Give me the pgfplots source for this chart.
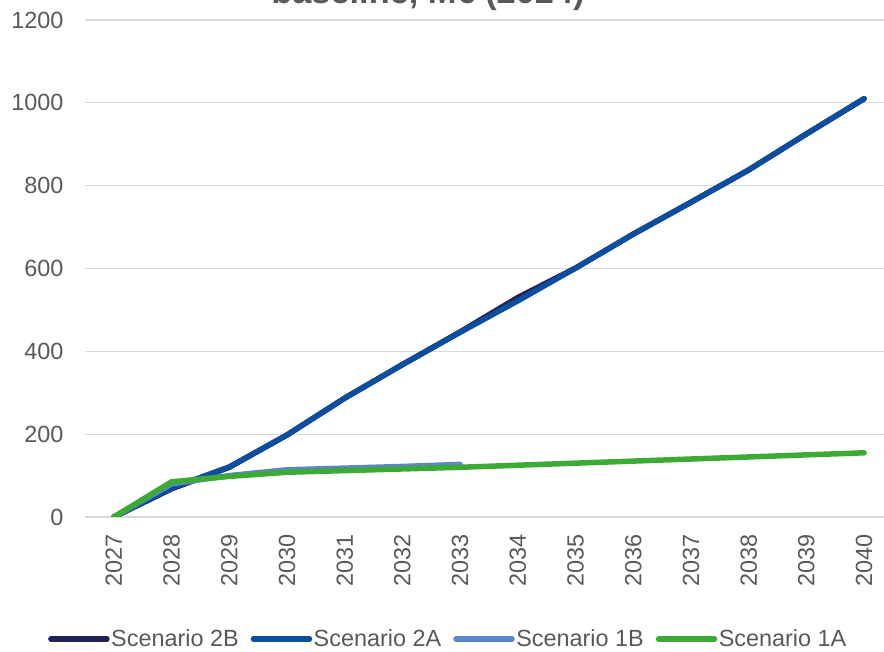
\documentclass[border=0pt]{standalone}
\usepackage{pgfplots}
\pgfplotsset{compat=1.18}
\usepackage{fontspec}
\setmainfont{Liberation Sans}

\definecolor{txtgrey}{HTML}{595959}
\definecolor{gridgrey}{HTML}{D9D9D9}
\definecolor{sc2b}{HTML}{1F2157}
\definecolor{sc2a}{HTML}{0B4EA0}
\definecolor{sc1b}{HTML}{5A87C8}
\definecolor{sc1a}{HTML}{3CAB36}

\begin{document}
\begin{tikzpicture}
\useasboundingbox (0bp,0bp) rectangle (884bp,652bp);
\clip (0bp,0bp) rectangle (884bp,652bp);

% chart title (upper lines fall outside the frame)
\node[anchor=base, font=\bfseries\fontsize{34.5}{40}\selectfont, text=txtgrey]
  at (428bp,648bp) {baseline, M€ (2024)};

\begin{axis}[
  at={(85bp,135bp)}, anchor=south west,
  scale only axis, width=808bp, height=497bp,
  xmin=-0.5, xmax=13.5, ymin=0, ymax=1200,
  ytick={0,200,...,1200},
  xtick={0,...,13},
  xticklabels={2027,2028,2029,2030,2031,2032,2033,2034,2035,2036,2037,2038,2039,2040},
  axis line style={draw=none},
  tick style={draw=none},
  ymajorgrids,
  major grid style={color=gridgrey, line width=1.3bp},
  /pgf/number format/assume math mode=true,
  /pgf/number format/1000 sep={},
  yticklabel style={font=\fontsize{23.5}{28}\selectfont, text=txtgrey, xshift=-18bp},
  xticklabel style={font=\fontsize{23.5}{28}\selectfont, text=txtgrey, rotate=90, anchor=east, xshift=-14bp},
  every axis plot/.append style={line width=5.5bp, line cap=round, line join=round, mark=none},
  legend columns=4,
  legend style={at={(0.4493,-0.2455)}, anchor=center, draw=none, fill=none,
    font=\fontsize{23.5}{28}\selectfont, text=txtgrey,
    /tikz/every even column/.append style={column sep=10.5bp},
    nodes={inner sep=1.5bp}},
  legend image code/.code={%
    \path (0bp,0bp) -- (56bp,0bp);
    \draw[#1, line width=5.5bp, line cap=round] (2.75bp,0bp) -- (53.25bp,0bp);},
]
\addplot[sc2b] coordinates {
  (0,0) (1,68) (2,120) (3,198) (4,287) (5,368) (6,447) (7,530)
  (8,601) (9,683) (10,760) (11,838) (12,925) (13,1010)};
\addlegendentry{Scenario 2B}
\addplot[sc2a] coordinates {
  (0,0) (1,70) (2,121) (3,198) (4,287) (5,368) (6,446) (7,522)
  (8,601) (9,683) (10,760) (11,838) (12,925) (13,1010)};
\addlegendentry{Scenario 2A}
\addplot[sc1b] coordinates {
  (0,0) (1,80) (2,100) (3,114) (4,118) (5,122) (6,127)};
\addlegendentry{Scenario 1B}
\addplot[sc1a] coordinates {
  (0,0) (1,85) (2,98) (3,108) (4,112) (5,116) (6,120) (7,125)
  (8,130) (9,135) (10,140) (11,145) (12,150) (13,155)};
\addlegendentry{Scenario 1A}
\end{axis}
\end{tikzpicture}
\end{document}
